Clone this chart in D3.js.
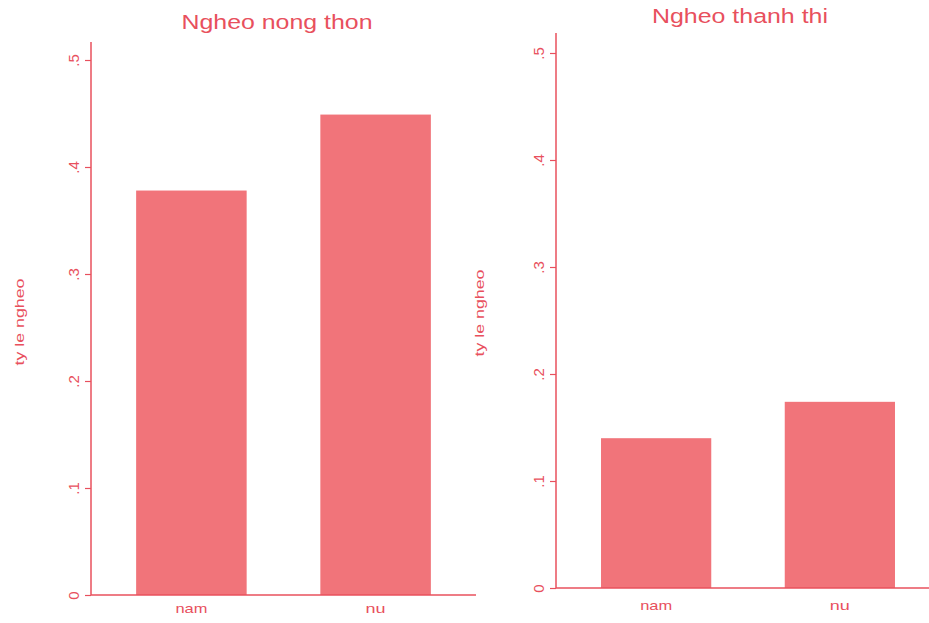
<!DOCTYPE html>
<html>
<head>
<meta charset="utf-8">
<script src="https://cdn.jsdelivr.net/npm/d3@7/dist/d3.min.js"></script>
<style>
  html, body { margin: 0; padding: 0; background: #ffffff; }
  svg { display: block; }
  text { font-family: "Liberation Sans", Arial, sans-serif; }
</style>
</head>
<body>
<svg id="chart" width="929" height="623"></svg>
<script>
// Poverty rate by sex, rural vs urban
const categories = ["nam", "nu"];
const ruralRates = [0.378, 0.449];
const urbanRates = [0.140, 0.174];
const yTicks = [0, 0.1, 0.2, 0.3, 0.4, 0.5];
const yTickLabels = ["0", ".1", ".2", ".3", ".4", ".5"];
const panelTitles = ["Ngheo nong thon", "Ngheo thanh thi"];
const yAxisTitle = "ty le ngheo";

const BAR = "#f1747a";
const INK = "#e8505d";

// Layout of each panel (pixels)
const panels = [
  { values: ruralRates, title: panelTitles[0],
    x0: 91, x1: 476, yBase: 595, yHalf: 60, axisTop: 42,
    titleX: 277, titleY: 29, titleW: 191,
    yTitleX: 24, yTitleY: 322, catY: 613 },
  { values: urbanRates, title: panelTitles[1],
    x0: 556, x1: 940, yBase: 588, yHalf: 53, axisTop: 33,
    titleX: 740, titleY: 23, titleW: 176,
    yTitleX: 484, yTitleY: 313, catY: 610 }
];

const svg = d3.select("#chart");

panels.forEach(p => {
  const g = svg.append("g");

  const y = d3.scaleLinear().domain([0, 0.5]).range([p.yBase, p.yHalf]);
  const x = d3.scaleBand()
    .domain(categories)
    .range([p.x0, p.x1])
    .paddingInner(0.4)
    .paddingOuter(0.245);

  // bars
  g.selectAll("rect.bar")
    .data(categories.map((c, i) => ({ c, v: p.values[i] })))
    .join("rect")
    .attr("class", "bar")
    .attr("x", d => x(d.c))
    .attr("width", x.bandwidth())
    .attr("y", d => y(d.v))
    .attr("height", d => y(0) - y(d.v))
    .attr("fill", BAR);

  // y axis
  const yAxis = g.append("g")
    .attr("transform", `translate(${p.x0},0)`)
    .call(d3.axisLeft(y)
      .tickValues(yTicks)
      .tickFormat((d, i) => yTickLabels[i])
      .tickSize(6)
      .tickSizeOuter(0));
  yAxis.select(".domain").remove();
  yAxis.selectAll(".tick line").attr("stroke", INK).attr("stroke-width", 1.2);
  yAxis.selectAll(".tick text")
    .attr("x", null).attr("dy", null)
    .attr("transform", "translate(-12,0) rotate(-90)")
    .attr("text-anchor", "middle")
    .attr("fill", INK)
    .style("font-size", "15px");
  g.append("line")
    .attr("x1", p.x0).attr("x2", p.x0)
    .attr("y1", p.yBase).attr("y2", p.axisTop)
    .attr("stroke", INK).attr("stroke-width", 1.5);

  // x axis
  const xAxis = g.append("g")
    .attr("transform", `translate(0,${p.yBase})`)
    .call(d3.axisBottom(x).tickSize(0).tickSizeOuter(0));
  xAxis.select(".domain").remove();
  xAxis.selectAll(".tick text")
    .attr("y", null).attr("dy", null)
    .attr("transform", `translate(0,${p.catY - p.yBase})`)
    .attr("fill", INK)
    .style("font-size", "13px")
    .attr("textLength", d => d === "nam" ? 32 : 20)
    .attr("lengthAdjust", "spacingAndGlyphs");
  g.append("line")
    .attr("x1", p.x0).attr("x2", p.x1)
    .attr("y1", p.yBase).attr("y2", p.yBase)
    .attr("stroke", INK).attr("stroke-width", 1.5);

  // panel title
  g.append("text")
    .attr("x", p.titleX).attr("y", p.titleY)
    .attr("text-anchor", "middle")
    .attr("fill", INK)
    .style("font-size", "20px")
    .attr("textLength", p.titleW)
    .attr("lengthAdjust", "spacingAndGlyphs")
    .text(p.title);

  // y axis title
  g.append("text")
    .attr("transform", `translate(${p.yTitleX},${p.yTitleY}) rotate(-90)`)
    .attr("text-anchor", "middle")
    .attr("fill", INK)
    .style("font-size", "13px")
    .attr("textLength", 87)
    .attr("lengthAdjust", "spacingAndGlyphs")
    .text(yAxisTitle);
});
</script>
</body>
</html>
